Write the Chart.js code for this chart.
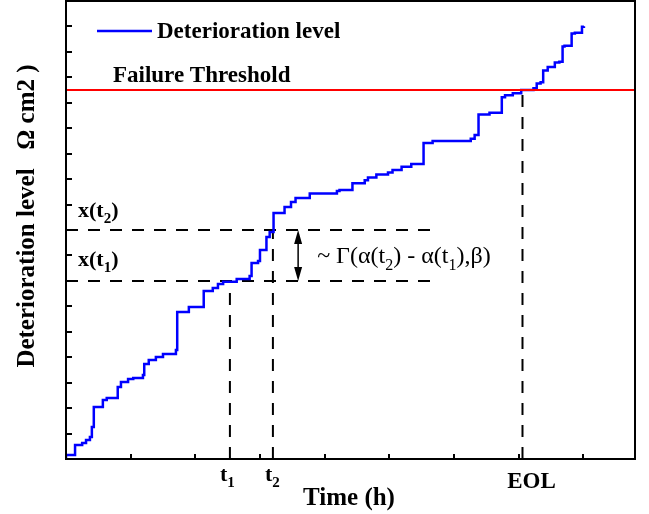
<!DOCTYPE html>
<html>
<head>
<meta charset="utf-8">
<script src="https://cdn.jsdelivr.net/npm/chart.js@4.4.0/dist/chart.umd.min.js"></script>
<style>
  html, body { margin: 0; padding: 0; background: #fff; }
  #wrap { width: 649px; height: 514px; position: relative; }
</style>
</head>
<body>
<div id="wrap"><canvas id="chart"></canvas></div>
<script>
// Deterioration path: time of each jump and level right after it
const timeSteps = [0, 0, 0.14, 0.25, 0.31, 0.37, 0.40, 0.43, 0.57, 0.63, 0.80, 0.85, 0.96, 1.04, 1.19, 1.21,
  1.28, 1.39, 1.50, 1.70, 1.72, 1.90, 2.13, 2.27, 2.35, 2.43, 2.64, 2.84, 2.87, 2.97, 3.00, 3.10, 3.15,
  3.21, 3.38, 3.48, 3.55, 3.77, 4.19, 4.23, 4.43, 4.62, 4.67, 4.80, 4.98, 5.05, 5.19, 5.34, 5.53, 5.67,
  6.26, 6.32, 6.38, 6.55, 6.74, 6.79, 6.91, 7.04, 7.23, 7.28, 7.34, 7.38, 7.45, 7.56, 7.63, 7.68, 7.71,
  7.82, 7.87, 7.98, 8.01];
const levelSteps = [0.04, 0.16, 0.55, 0.63, 0.75, 0.86, 1.26, 2.04, 2.32, 2.40, 2.83, 3.03, 3.14, 3.18, 3.30, 3.73,
  3.89, 4.01, 4.13, 4.28, 5.78, 5.97, 6.60, 6.72, 6.88, 6.97, 7.07, 7.19, 7.70, 7.78, 8.21, 8.72, 8.92,
  9.67, 9.90, 10.10, 10.26, 10.43, 10.53, 10.57, 10.84, 10.96, 11.06, 11.18, 11.26, 11.36, 11.49, 11.59, 12.42, 12.50,
  12.59, 12.73, 13.54, 13.61, 14.22, 14.30, 14.37, 14.50, 14.57, 14.76, 14.81, 15.27, 15.41, 15.58, 15.61, 16.21, 16.24,
  16.72, 16.75, 16.99, 17.01];

const failureThreshold = 14.5;
const t1 = 2.535;
const t2 = 3.2;
const eol = 7.06;
const levelAtT1 = 7;
const levelAtT2 = 9;
const guideEnd = 5.67;
const arrowTime = 3.59;
const xMax = 8.8;
const yMax = 18;
const xTickValues = [1, 2, 3, 4, 5, 6, 7, 8];
const yTickValues = [1, 2, 3, 4, 5, 6, 7, 8, 9, 10, 11, 12, 13, 14, 15, 16, 17];

const pathPoints = timeSteps.map((t, i) => ({ x: t, y: levelSteps[i] }));

function guide(points) {
  return {
    data: points,
    borderColor: '#000',
    borderWidth: 2,
    borderDash: [12, 10],
    pointRadius: 0,
    order: 2
  };
}

// draw a run of text pieces, some of them as subscripts
function drawPieces(ctx, x, y, pieces, size, weight) {
  let cx = x;
  pieces.forEach(p => {
    const s = p.sub ? Math.round(size * 0.68) : size;
    ctx.font = weight + ' ' + s + 'px "Liberation Serif", "Times New Roman", serif';
    ctx.fillText(p.text, cx, p.sub ? y + size * 0.28 : y);
    cx += ctx.measureText(p.text).width;
  });
}

const decor = {
  id: 'decor',
  afterDatasetsDraw(chart) {
    const ctx = chart.ctx;
    const a = chart.chartArea;
    const xs = chart.scales.x;
    const ys = chart.scales.y;
    ctx.save();
    ctx.strokeStyle = '#000';
    ctx.fillStyle = '#000';
    ctx.lineWidth = 2;

    // frame
    ctx.strokeRect(a.left, a.top, a.right - a.left, a.bottom - a.top);

    // inward ticks
    ctx.beginPath();
    xTickValues.forEach(v => {
      const px = Math.round(xs.getPixelForValue(v));
      ctx.moveTo(px, a.bottom);
      ctx.lineTo(px, a.bottom - 5);
    });
    yTickValues.forEach(v => {
      const py = Math.round(ys.getPixelForValue(v));
      ctx.moveTo(a.left, py);
      ctx.lineTo(a.left + 6, py);
    });
    ctx.stroke();

    // double arrow between x(t1) and x(t2)
    const ax = xs.getPixelForValue(arrowTime);
    const yTop = ys.getPixelForValue(levelAtT2);
    const yBot = ys.getPixelForValue(levelAtT1);
    ctx.lineWidth = 1.5;
    ctx.beginPath();
    ctx.moveTo(ax, yTop + 10);
    ctx.lineTo(ax, yBot - 10);
    ctx.stroke();
    ctx.beginPath();
    ctx.moveTo(ax, yTop);
    ctx.lineTo(ax - 4, yTop + 14);
    ctx.lineTo(ax + 4, yTop + 14);
    ctx.closePath();
    ctx.moveTo(ax, yBot);
    ctx.lineTo(ax - 4, yBot - 14);
    ctx.lineTo(ax + 4, yBot - 14);
    ctx.closePath();
    ctx.fill();

    ctx.textBaseline = 'alphabetic';
    ctx.textAlign = 'left';

    // legend
    const legY = 31;
    ctx.strokeStyle = '#0000ff';
    ctx.lineWidth = 2.5;
    ctx.beginPath();
    ctx.moveTo(97, legY);
    ctx.lineTo(152, legY);
    ctx.stroke();
    ctx.font = 'bold 23px "Liberation Serif", serif';
    ctx.textBaseline = 'middle';
    ctx.fillText('Deterioration level', 157, legY + 1);
    ctx.textBaseline = 'alphabetic';

    // threshold label
    ctx.fillText('Failure Threshold', 113, ys.getPixelForValue(failureThreshold) - 8);

    // level labels
    drawPieces(ctx, a.left + 12, yTop - 13, [{ text: 'x(t' }, { text: '2', sub: true }, { text: ')' }], 22, 'bold');
    drawPieces(ctx, a.left + 12, yBot - 15, [{ text: 'x(t' }, { text: '1', sub: true }, { text: ')' }], 22, 'bold');

    // increment distribution
    drawPieces(ctx, ax + 19, (yTop + yBot) / 2 + 8,
      [{ text: '~ Γ(α(t' }, { text: '2', sub: true }, { text: ') - α(t' }, { text: '1', sub: true }, { text: '),β)' }],
      24, 'normal');

    // x tick labels
    const labY = a.bottom + 22;
    drawPieces(ctx, xs.getPixelForValue(t1) - 10, labY, [{ text: 't' }, { text: '1', sub: true }], 22, 'bold');
    drawPieces(ctx, xs.getPixelForValue(t2) - 8, labY, [{ text: 't' }, { text: '2', sub: true }], 22, 'bold');
    ctx.font = 'bold 23px "Liberation Serif", serif';
    ctx.textAlign = 'center';
    ctx.fillText('EOL', xs.getPixelForValue(eol) + 9, labY + 7);

    // axis titles
    ctx.font = 'bold 25px "Liberation Serif", serif';
    ctx.fillText('Time (h)', 349, 505);
    ctx.translate(34, 216);
    ctx.rotate(-Math.PI / 2);
    ctx.fillText('Deterioration level   Ω cm2 )', 0, 0);
    ctx.restore();
  }
};

new Chart(document.getElementById('chart'), {
  type: 'line',
  data: {
    datasets: [
      {
        data: pathPoints,
        borderColor: '#0000ff',
        borderWidth: 2.5,
        stepped: 'before',
        pointRadius: 0,
        order: 1
      },
      {
        data: [{ x: 0, y: failureThreshold }, { x: xMax, y: failureThreshold }],
        borderColor: '#ff0000',
        borderWidth: 2,
        pointRadius: 0,
        order: 0
      },
      guide([{ x: 0, y: levelAtT2 }, { x: guideEnd, y: levelAtT2 }]),
      guide([{ x: 0, y: levelAtT1 }, { x: guideEnd, y: levelAtT1 }]),
      guide([{ x: t1, y: 0 }, { x: t1, y: levelAtT1 }]),
      guide([{ x: t2, y: 0 }, { x: t2, y: levelAtT2 }]),
      guide([{ x: eol, y: 0 }, { x: eol, y: failureThreshold }])
    ]
  },
  options: {
    responsive: true,
    maintainAspectRatio: false,
    animation: false,
    layout: { padding: { left: 66, right: 14, top: 1, bottom: 55 } },
    scales: {
      x: { type: 'linear', min: 0, max: xMax, display: false },
      y: { type: 'linear', min: 0, max: yMax, display: false }
    },
    plugins: {
      legend: { display: false },
      tooltip: { enabled: false }
    }
  },
  plugins: [decor]
});
</script>
</body>
</html>
